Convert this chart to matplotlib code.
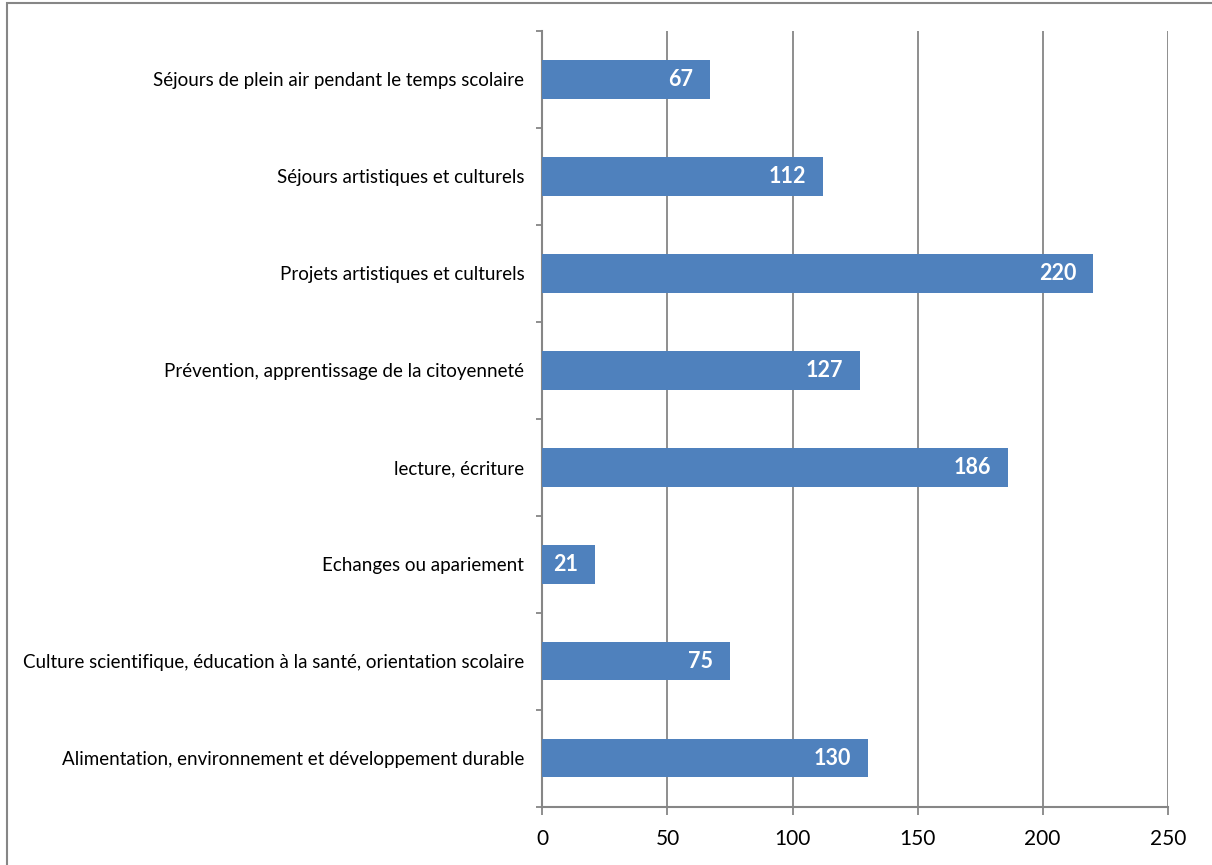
import matplotlib.pyplot as plt
from matplotlib.patches import Rectangle
import numpy as np

plt.rcParams['font.family'] = ['Lato', 'DejaVu Sans']

# categories from top to bottom
categories = [
    "Séjours de plein air pendant le temps scolaire",
    "Séjours artistiques et culturels",
    "Projets artistiques et culturels",
    "Prévention, apprentissage de la citoyenneté",
    "lecture, écriture",
    "Echanges ou apariement",
    "Culture scientifique, éducation à la santé, orientation scolaire",
    "Alimentation, environnement et développement durable",
]
values = [67, 112, 220, 127, 186, 21, 75, 130]
xticks = [0, 50, 100, 150, 200, 250]

grey = "#868686"
blue = "#4F81BD"

fig = plt.figure(figsize=(12.12, 8.65), dpi=100)
ax = fig.add_axes([0.4475, 0.0676, 0.9635 - 0.4475, 0.9642 - 0.0676])

# outer frame of the chart area
fig.patches.append(Rectangle((7 / 1212, -0.1), 1.2, 1 - 3 / 865 + 0.1,
                             transform=fig.transFigure, fill=False,
                             edgecolor=grey, linewidth=1.5))

n = len(categories)
ypos = np.arange(n)[::-1]
bars = ax.barh(ypos, values, height=0.4, color=blue, zorder=3)

for y, v in zip(ypos, values):
    ax.annotate(str(v), (v, y), xytext=(-12, 0), textcoords='offset points',
                ha='right', va='center', color='white', fontweight='bold',
                fontsize=15.5, zorder=4)

ax.set_xlim(0, 250)
ax.set_ylim(-0.5, n - 0.5)
ax.set_xticks(xticks)
ax.set_yticks(ypos)
ax.set_yticklabels(categories, fontsize=13.5)
ax.set_yticks(np.arange(n + 1) - 0.5, minor=True)

ax.grid(axis='x', color=grey, linewidth=1.3, zorder=0)
for s in ['top', 'right']:
    ax.spines[s].set_visible(False)
for s in ['left', 'bottom']:
    ax.spines[s].set_color(grey)
    ax.spines[s].set_linewidth(1.5)

ax.tick_params(axis='y', which='major', length=0, pad=13)
ax.tick_params(axis='y', which='minor', length=4, color=grey, width=1.3)
ax.tick_params(axis='x', length=6, color=grey, width=1.3, pad=10, labelsize=15)

fig.savefig("out.png", dpi=100)
